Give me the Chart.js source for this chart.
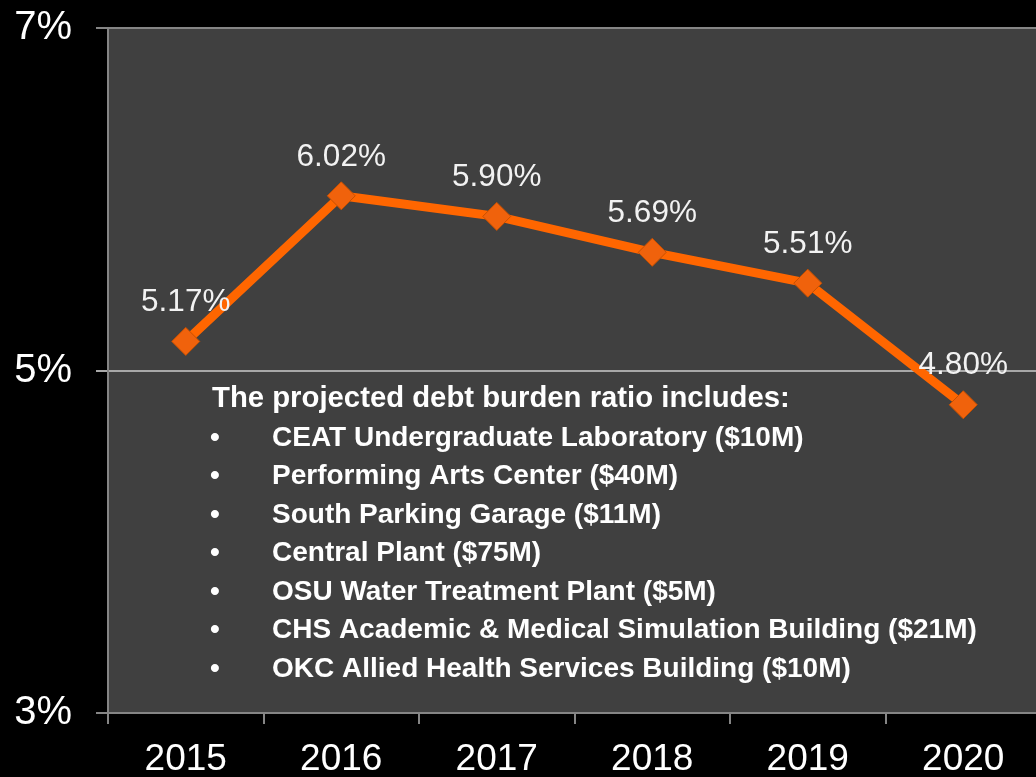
<!DOCTYPE html>
<html>
<head>
<meta charset="utf-8">
<script src="https://cdn.jsdelivr.net/npm/chart.js@4"></script>
<style>
html,body{margin:0;padding:0;background:#000;overflow:hidden;}
#wrap{position:absolute;left:0;top:0;width:1056px;height:777px;}
</style>
</head>
<body>
<div id="wrap"><canvas id="c" width="1056" height="777"></canvas></div>
<script>
const years = ['2015','2016','2017','2018','2019','2020'];
const debtRatio = [5.17, 6.02, 5.90, 5.69, 5.51, 4.80];
const pointLabels = ['5.17%','6.02%','5.90%','5.69%','5.51%','4.80%'];
const yTickValues = [3, 5, 7];
const noteTitle = 'The projected debt burden ratio includes:';
const noteItems = [
  'CEAT Undergraduate Laboratory ($10M)',
  'Performing Arts Center ($40M)',
  'South Parking Garage ($11M)',
  'Central Plant ($75M)',
  'OSU Water Treatment Plant ($5M)',
  'CHS Academic & Medical Simulation Building ($21M)',
  'OKC Allied Health Services Building ($10M)'
];

const FONT = '"Liberation Sans", Arial, sans-serif';

const plotBg = {
  id: 'plotBg',
  beforeDraw(chart) {
    const {ctx, chartArea: a} = chart;
    ctx.save();
    ctx.fillStyle = '#404040';
    ctx.fillRect(a.left, a.top, a.right - a.left, a.bottom - a.top);
    ctx.restore();
  }
};

const valueLabels = {
  id: 'valueLabels',
  afterDatasetsDraw(chart) {
    const {ctx} = chart;
    const meta = chart.getDatasetMeta(0);
    ctx.save();
    ctx.fillStyle = '#f2f2f2';
    ctx.font = '31.5px ' + FONT;
    ctx.textAlign = 'center';
    ctx.textBaseline = 'middle';
    meta.data.forEach((pt, i) => {
      ctx.fillText(pointLabels[i], pt.x, pt.y - 39);
    });
    ctx.restore();
  }
};

const noteBox = {
  id: 'noteBox',
  afterDraw(chart) {
    const {ctx} = chart;
    ctx.save();
    ctx.fillStyle = '#ffffff';
    ctx.textBaseline = 'middle';
    ctx.textAlign = 'left';
    ctx.font = 'bold 29.3px ' + FONT;
    ctx.fillText(noteTitle, 212, 399);
    noteItems.forEach((t, i) => {
      const y = 438 + i * 38.5;
      ctx.font = 'bold 28px ' + FONT;
      ctx.fillText('\u2022', 210, y);
      ctx.fillText(t, 272, y);
    });
    ctx.restore();
  }
};

function zeroPad(s) {
  s.paddingTop = 0; s.paddingBottom = 0; s.paddingLeft = 0; s.paddingRight = 0;
}

new Chart(document.getElementById('c'), {
  type: 'line',
  data: {
    labels: years,
    datasets: [{
      data: debtRatio,
      borderColor: '#ff6600',
      borderWidth: 9,
      pointStyle: 'rectRot',
      pointRadius: 14,
      pointBackgroundColor: '#f0620c',
      pointBorderColor: '#c85000',
      pointBorderWidth: 1,
      tension: 0,
      fill: false
    }]
  },
  options: {
    responsive: false,
    animation: false,
    devicePixelRatio: 1,
    layout: {padding: {top: 28, left: 0, right: 0, bottom: 0}},
    plugins: {legend: {display: false}, tooltip: {enabled: false}},
    scales: {
      x: {
        offset: true,
        grid: {
          offset: true,
          drawOnChartArea: false,
          drawTicks: true,
          tickLength: 11,
          color: '#858585',
          lineWidth: 2
        },
        border: {color: '#858585', width: 2},
        ticks: {
          color: '#ffffff',
          font: {family: FONT, size: 37},
          padding: 14,
          maxRotation: 0
        },
        afterFit(s) { s.height = 64; zeroPad(s); }
      },
      y: {
        min: 3,
        max: 7,
        afterBuildTicks(s) { s.ticks = yTickValues.map(v => ({value: v})); },
        grid: {
          color: (c) => c.index === 1 ? '#a8a8a8' : '#858585',
          lineWidth: 2,
          tickLength: 12
        },
        border: {color: '#858585', width: 2},
        ticks: {
          color: '#ffffff',
          font: {family: FONT, size: 40},
          padding: 24,
          callback: (v) => v + '%'
        },
        afterFit(s) { s.width = 108; zeroPad(s); }
      }
    }
  },
  plugins: [plotBg, valueLabels, noteBox]
});
</script>
</body>
</html>
